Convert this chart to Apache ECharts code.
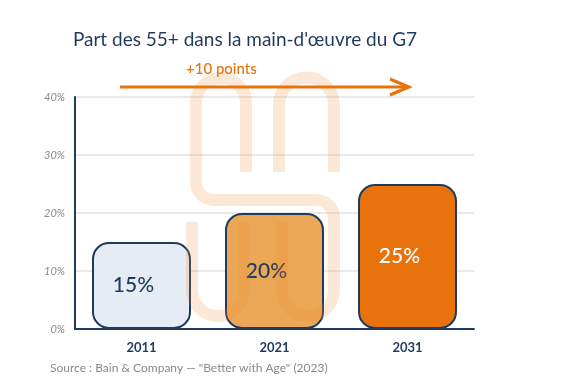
<!DOCTYPE html>
<html><head><meta charset="utf-8">
<script src="https://cdn.jsdelivr.net/npm/echarts@6/dist/echarts.min.js"></script>
<style>html,body{margin:0;padding:0;background:#fff}#c{width:581px;height:391px}</style>
</head><body><div id="c"></div>
<script>
const categories = ['2011', '2021', '2031'];
const values = [15, 20, 25];
const valueLabels = ['15%', '20%', '25%'];
const yTicks = [0, 10, 20, 30, 40];
const titleText = "Part des 55+ dans la main-d'œuvre du G7";
const arrowText = '+10 points';
const sourceText = 'Source : Bain & Company — "Better with Age" (2023)';

const navy = '#1f3a5f';
const barColors = ['#e6ecf3', '#eba755', '#e8720c'];
const labelColors = [navy, navy, '#ffffff'];
const font = 'Lato, "Noto Sans", sans-serif';

const chart = echarts.init(document.getElementById('c'), null, {renderer: 'canvas'});
const wm = {stroke: '#f08a30', lineWidth: 12, fill: null, opacity: 0.2, lineCap: 'butt'};
const P = Math.PI;
function L(x1, y1, x2, y2) { return {type: 'line', z: 100, silent: true, shape: {x1, y1, x2, y2}, style: wm}; }
function A(cx, cy, r, s, e) { return {type: 'arc', z: 100, silent: true, shape: {cx, cy, r, startAngle: s, endAngle: e, clockwise: true}, style: wm}; }
const watermark = [
  L(246, 172, 246, 103), A(221, 103, 25, P, 2 * P), L(196, 103, 196, 182),
  A(214, 182, 18, P / 2, P), L(214, 200, 316, 200), A(316, 218, 18, 1.5 * P, 2 * P),
  L(334, 218, 334, 290), A(308, 290, 26, 0, P), L(282, 290, 282, 222),
  L(279, 172, 279, 105), A(306.5, 105, 27.5, P, 2 * P), L(334, 105, 334, 172),
  L(192, 222, 192, 290), A(218, 290, 26, 0, P), L(244, 290, 244, 222)
];

chart.setOption({
  animation: false,
  backgroundColor: '#fff',
  title: {
    text: titleText, left: 240, top: 25, textAlign: 'center',
    textStyle: {color: navy, fontSize: 19, fontWeight: 'normal', fontFamily: font}
  },
  grid: {left: 75, right: 107, top: 97, bottom: 62},
  xAxis: {
    type: 'category', data: categories,
    axisLine: {lineStyle: {color: navy, width: 2}},
    axisTick: {show: false},
    axisLabel: {color: navy, fontSize: 13, fontWeight: 'bold', margin: 12, fontFamily: font}
  },
  yAxis: {
    type: 'value', min: yTicks[0], max: yTicks[yTicks.length - 1], interval: 10,
    axisLine: {show: true, lineStyle: {color: navy, width: 2}},
    axisTick: {show: false},
    axisLabel: {color: '#8a8a8a', fontSize: 11, fontStyle: 'italic', margin: 10, fontFamily: font,
      formatter: v => v + '%'},
    splitLine: {lineStyle: {color: '#e2e2e2', width: 1.5}}
  },
  series: [{
    type: 'bar', barWidth: 99,
    data: values.map((v, i) => ({
      value: v,
      itemStyle: {color: barColors[i], borderColor: navy, borderWidth: 2, borderRadius: 16},
      label: {show: true, position: 'inside', offset: [-8, 0], formatter: valueLabels[i], color: labelColors[i],
        fontSize: 21, fontWeight: 500, fontFamily: font}
    }))
  }],
  graphic: watermark.concat([
    {type: 'line', z: 101, shape: {x1: 120, y1: 87, x2: 408, y2: 87},
      style: {stroke: '#e8720c', lineWidth: 3}},
    {type: 'polyline', z: 101, shape: {points: [[390, 79], [409, 87], [390, 95]]},
      style: {stroke: '#e8720c', lineWidth: 3, fill: null}},
    {type: 'text', z: 101, left: 186, top: 62,
      style: {text: arrowText, fill: '#e8720c', fontSize: 15, fontWeight: 500, fontFamily: font}},
    {type: 'text', z: 101, left: 50, top: 362,
      style: {text: sourceText, fill: '#8a8a8a', fontSize: 12, fontFamily: font}}
  ])
});
</script></body></html>
